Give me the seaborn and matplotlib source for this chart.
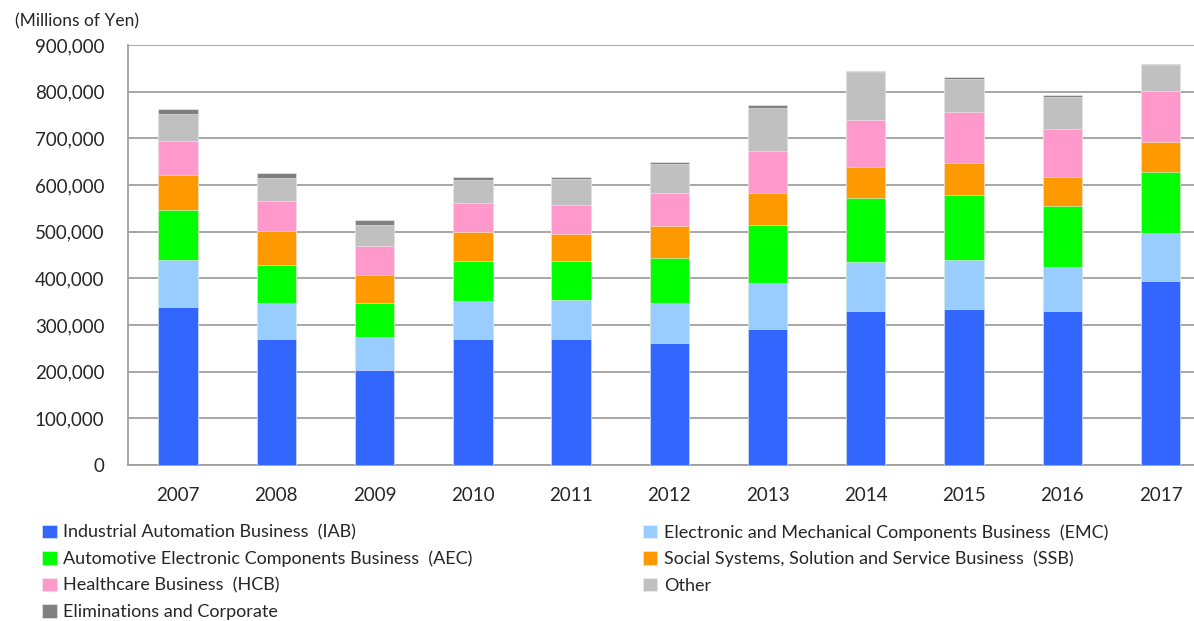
import numpy as np
import pandas as pd
import matplotlib
matplotlib.use("Agg")
import matplotlib.pyplot as plt
import seaborn as sns
from matplotlib.ticker import FuncFormatter, FixedLocator

years = ["2007", "2008", "2009", "2010", "2011", "2012", "2013", "2014", "2015", "2016", "2017"]

# segment sales, millions of yen
iab = [339, 270, 203, 270, 270, 262, 291, 330, 335, 330, 395]
emc = [100, 77, 72, 82, 84, 85, 98, 105, 104, 94, 103]
aec = [107, 82, 73, 85, 84, 97, 126, 138, 139, 132, 130]
ssb = [76, 72, 59, 63, 58, 69, 67, 66, 70, 62, 65]
hcb = [73, 64, 63, 61, 62, 70, 90, 101, 109, 101, 108]
other = [57, 51, 44, 50, 55, 61, 94, 102, 70, 69, 57]
elim = [10, 10, 10, 6, 5, 5, 5, 3, 5, 4, 1]

labels = ["Industrial Automation Business  (IAB)",
          "Electronic and Mechanical Components Business  (EMC)",
          "Automotive Electronic Components Business  (AEC)",
          "Social Systems, Solution and Service Business  (SSB)",
          "Healthcare Business  (HCB)",
          "Other",
          "Eliminations and Corporate"]
colors = ["#3366FF", "#99CCFF", "#00FF00", "#FF9900", "#FF99CC", "#C0C0C0", "#808080"]

series = [iab, emc, aec, ssb, hcb, other, elim]
df = pd.DataFrame({lab: np.array(s) * 1000 for lab, s in zip(labels, series)}, index=years)
cum = df.cumsum(axis=1)

sns.set_style("white")
plt.rcParams['font.family'] = ['Lato', 'DejaVu Sans']

fig = plt.figure(figsize=(11.94, 6.21), dpi=100)
ax = fig.add_axes([128 / 1194, 1 - 465 / 621, 1 - 128 / 1194, 420 / 621])

# draw tallest cumulative first so each segment shows on top of the next
for lab, col in reversed(list(zip(labels, colors))):
    sns.barplot(x=years, y=cum[lab].values, color=col, saturation=1, width=0.4,
                errorbar=None, edgecolor="#F0F0F0", linewidth=0.4, label=lab,
                ax=ax, zorder=3)

if ax.get_legend() is not None:
    ax.get_legend().remove()

ax.set_ylim(0, 900000)
ax.set_xlim(-0.51, 10.34)
ax.set_yticks(np.arange(0, 900001, 100000))
ax.yaxis.set_major_formatter(FuncFormatter(lambda v, p: f"{int(v):,}"))
ax.grid(axis="y", color="#A0A0A0", linewidth=1.3, zorder=0)
ax.set_axisbelow(True)
for s in ["top", "right"]:
    ax.spines[s].set_visible(False)
for s in ["left", "bottom"]:
    ax.spines[s].set_color("#A0A0A0")
    ax.spines[s].set_linewidth(1.3)

ax.tick_params(axis="y", length=6, width=1.2, color="#A0A0A0", pad=11, labelsize=13.5)
ax.tick_params(axis="x", which="major", length=0, pad=16, labelsize=13.5)
ax.xaxis.set_minor_locator(FixedLocator(np.arange(-0.5, 10.6, 1)))
ax.tick_params(axis="x", which="minor", length=6, width=1.2, color="#A0A0A0")
ax.set_xlabel("")

fig.text(15 / 1194, 1 - 21 / 621, "(Millions of Yen)", fontsize=12.5, va="center", ha="left")

handles, labs = ax.get_legend_handles_labels()
hmap = dict(zip(labs, handles))
order = [labels[0], labels[2], labels[4], labels[6], labels[1], labels[3], labels[5]]
fig.legend([hmap[l] for l in order], order, ncol=2, loc="upper left",
           bbox_to_anchor=(35 / 1194, 1 - 517 / 621), frameon=False, fontsize=13,
           handlelength=0.8, handleheight=0.8, handletextpad=0.35, labelspacing=0.56,
           columnspacing=9.45, borderaxespad=0)

fig.savefig("out.png", dpi=100)
